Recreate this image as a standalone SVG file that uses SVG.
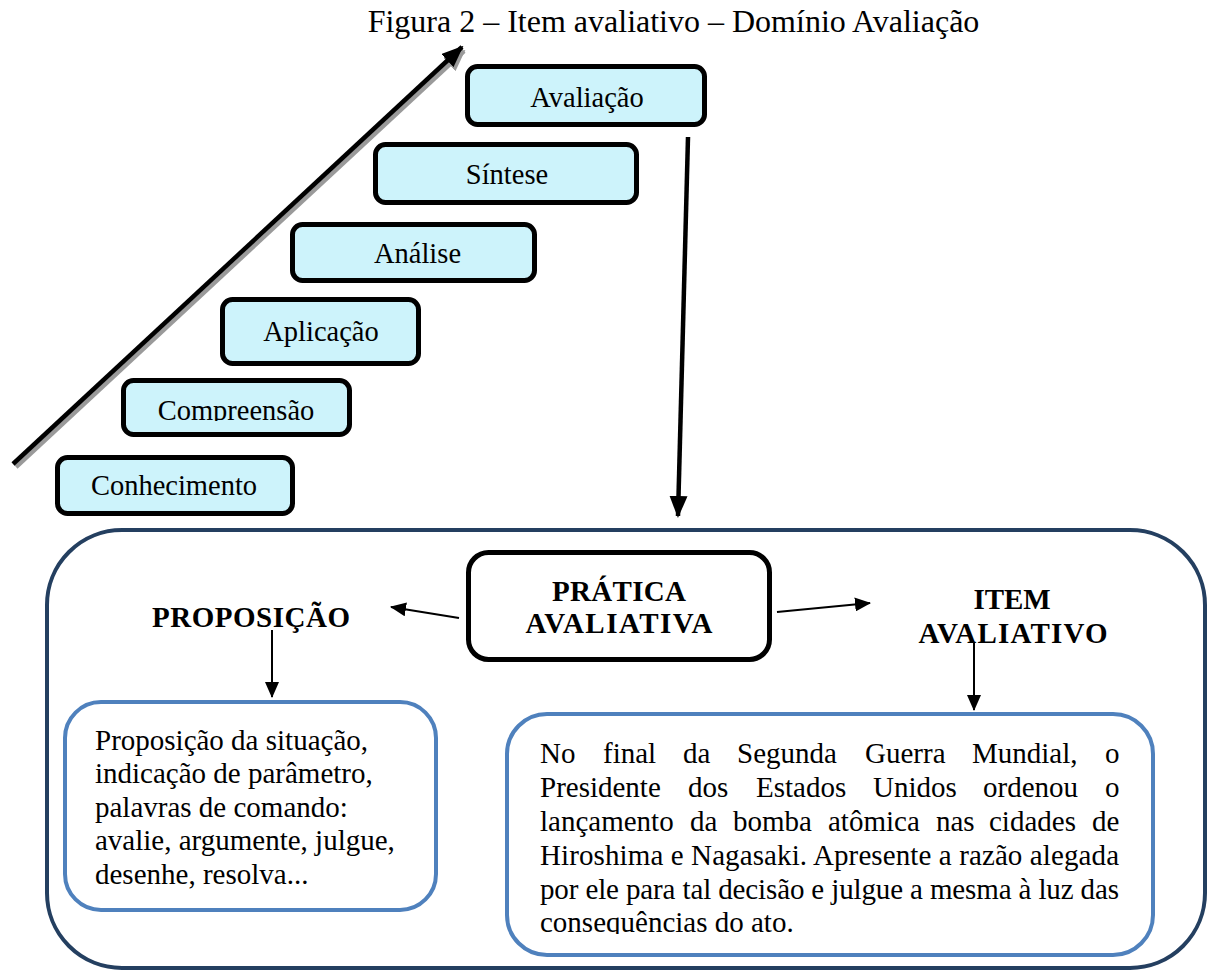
<svg xmlns="http://www.w3.org/2000/svg" width="1210" height="973" viewBox="0 0 1210 973">
<style>
.serif{font-family:"Liberation Serif","Times New Roman",serif;fill:#000}
.lvl rect{fill:#CDF3FB;stroke:#000;stroke-width:5}
.lvl text{font-size:28.5px;text-anchor:middle}
.bold{font-weight:bold;font-size:29px;text-anchor:middle}
.body{font-size:29px}
.thin{stroke:#000;stroke-width:2;fill:none}
.thick{stroke:#000;stroke-width:4.5;fill:none}
</style>
<defs>
<marker id="ah" markerUnits="userSpaceOnUse" markerWidth="16" markerHeight="14" refX="15" refY="7" orient="auto"><path d="M0,0 L16,7 L0,14 Z" fill="#000"/></marker>
<marker id="ahb" markerUnits="userSpaceOnUse" markerWidth="22" markerHeight="18" refX="20" refY="9" orient="auto"><path d="M0,0 L22,9 L0,18 Z" fill="#000"/></marker>
<marker id="ahs" markerUnits="userSpaceOnUse" markerWidth="22" markerHeight="18" refX="20" refY="9" orient="auto"><path d="M0,0 L22,9 L0,18 Z" fill="#9a9a9a"/></marker>
<clipPath id="clipComp"><rect x="0" y="0" width="1210" height="421"/></clipPath>
<clipPath id="clipItem"><rect x="0" y="0" width="1210" height="934"/></clipPath>
</defs>

<text class="serif" x="673.5" y="32" font-size="32" text-anchor="middle">Figura 2 – Item avaliativo – Domínio Avaliação</text>

<g id="connectors">
<line x1="16" y1="467" x2="464" y2="51" stroke="#9a9a9a" stroke-width="4.5" marker-end="url(#ahs)"/>
<line class="thick" x1="13" y1="464" x2="462" y2="47" marker-end="url(#ahb)"/>
<line class="thick" x1="688" y1="137" x2="678" y2="516" marker-end="url(#ahb)"/>
<line class="thin" x1="459" y1="618" x2="391" y2="607" marker-end="url(#ah)"/>
<line class="thin" x1="777" y1="612" x2="870" y2="603" marker-end="url(#ah)"/>
<line class="thin" x1="272" y1="630" x2="272" y2="697" marker-end="url(#ah)"/>
<line class="thin" x1="974" y1="642" x2="974" y2="710" marker-end="url(#ah)"/>
</g>

<g id="avaliacao" class="lvl"><rect x="467.5" y="66.5" width="237" height="58" rx="10"/><text class="serif" x="587" y="107">Avaliação</text></g>
<g id="sintese" class="lvl"><rect x="375.5" y="144.5" width="261" height="58" rx="10"/><text class="serif" x="507" y="184">Síntese</text></g>
<g id="analise" class="lvl"><rect x="292.5" y="224.5" width="242" height="56" rx="10"/><text class="serif" x="417.5" y="263">Análise</text></g>
<g id="aplicacao" class="lvl"><rect x="222.5" y="299.5" width="196" height="64" rx="10"/><text class="serif" x="321" y="341">Aplicação</text></g>
<g id="compreensao" class="lvl"><rect x="123.5" y="380.5" width="226" height="54" rx="10"/><text class="serif" x="236" y="420" clip-path="url(#clipComp)">Compreensão</text></g>
<g id="conhecimento" class="lvl"><rect x="57.5" y="457.5" width="235" height="56" rx="10"/><text class="serif" x="174" y="495">Conhecimento</text></g>

<g id="container"><rect x="47" y="530" width="1158" height="438" rx="75" fill="none" stroke="#243F60" stroke-width="4"/></g>

<g id="pratica"><rect x="468.5" y="552.5" width="301" height="107" rx="20" fill="#fff" stroke="#000" stroke-width="5"/>
<text class="serif bold" x="619" y="601" textLength="134" lengthAdjust="spacing">PRÁTICA</text><text class="serif bold" x="619" y="633" textLength="187" lengthAdjust="spacing">AVALIATIVA</text></g>

<g id="proposicao"><text class="serif bold" x="251" y="627" textLength="198" lengthAdjust="spacing">PROPOSIÇÃO</text></g>

<g id="item"><text class="serif bold" x="1012" y="609" textLength="77" lengthAdjust="spacing">ITEM</text><text class="serif bold" x="1013" y="643" textLength="189" lengthAdjust="spacing">AVALIATIVO</text></g>

<g id="proposicao-texto"><rect x="65" y="702" width="371" height="208" rx="36" fill="#fff" stroke="#4F81BD" stroke-width="4"/>
<text class="serif body" x="95" y="750">Proposição da situação,</text>
<text class="serif body" x="95" y="783">indicação de parâmetro,</text>
<text class="serif body" x="95" y="817">palavras de comando:</text>
<text class="serif body" x="95" y="850">avalie, argumente, julgue,</text>
<text class="serif body" x="95" y="884">desenhe, resolva...</text>
</g>

<g id="item-texto"><rect x="507" y="714" width="646" height="241" rx="40" fill="#fff" stroke="#4F81BD" stroke-width="4"/>
<text class="serif body" y="763"><tspan x="540">No</tspan><tspan x="603">final</tspan><tspan x="683">da</tspan><tspan x="737">Segunda</tspan><tspan x="865">Guerra</tspan><tspan x="972">Mundial,</tspan><tspan x="1105">o</tspan></text>
<text class="serif body" y="797"><tspan x="540">Presidente</tspan><tspan x="688">dos</tspan><tspan x="756">Estados</tspan><tspan x="873">Unidos</tspan><tspan x="983">ordenou</tspan><tspan x="1105">o</tspan></text>
<text class="serif body" y="831"><tspan x="540">lançamento</tspan><tspan x="690">da</tspan><tspan x="733">bomba</tspan><tspan x="828">atômica</tspan><tspan x="936">nas</tspan><tspan x="989">cidades</tspan><tspan x="1092">de</tspan></text>
<text class="serif body" x="540" y="865" textLength="579" lengthAdjust="spacing">Hiroshima e Nagasaki. Apresente a razão alegada</text>
<text class="serif body" x="540" y="899" textLength="579" lengthAdjust="spacing">por ele para tal decisão e julgue a mesma à luz das</text>
<text class="serif body" x="540" y="932" clip-path="url(#clipItem)">consequências do ato.</text>
</g>
</svg>
